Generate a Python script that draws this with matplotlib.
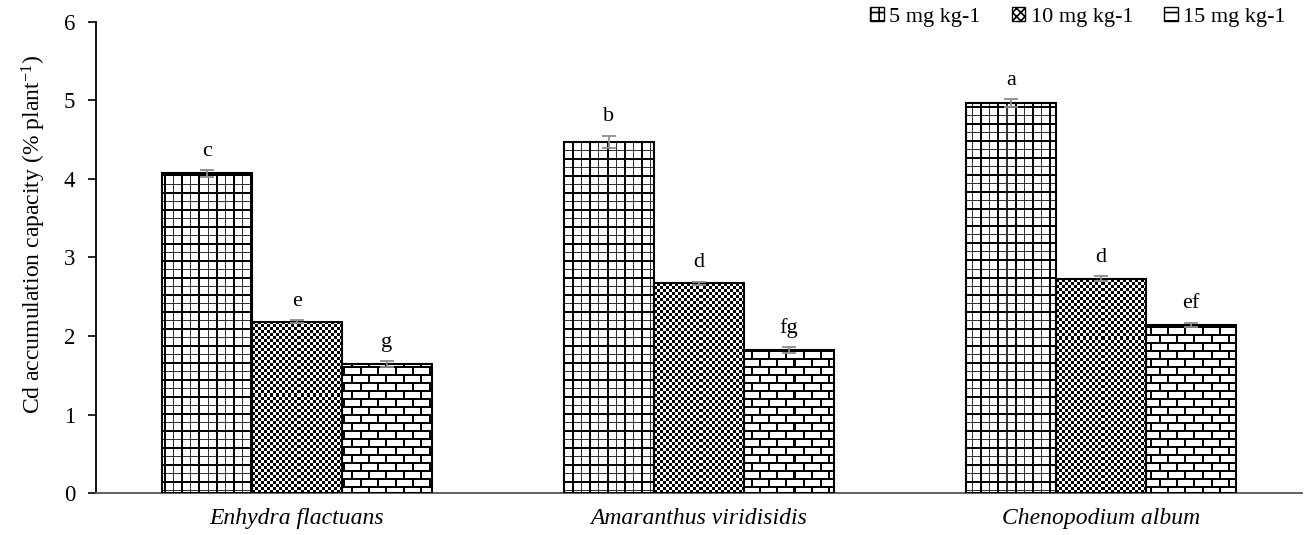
import numpy as np
import matplotlib
matplotlib.use("Agg")
import matplotlib.pyplot as plt
from matplotlib.patches import Patch

plt.rcParams['font.family'] = ['Liberation Serif', 'DejaVu Serif']
plt.rcParams['mathtext.fontset'] = 'custom'
plt.rcParams['mathtext.rm'] = 'Liberation Serif'
plt.rcParams['mathtext.it'] = 'Liberation Serif:italic'
plt.rcParams['hatch.linewidth'] = 1.2

# Data
species = ["Enhydra flactuans", "Amaranthus viridisidis", "Chenopodium album"]
doses = ["5 mg kg-1", "10 mg kg-1", "15 mg kg-1"]
dose5 = [4.07, 4.47, 4.97]
dose10 = [2.18, 2.67, 2.73]
dose15 = [1.64, 1.82, 2.14]
err5 = [0.04, 0.08, 0.05]
err10 = [0.02, 0.02, 0.03]
err15 = [0.04, 0.04, 0.03]
letters5 = ["c", "b", "a"]
letters10 = ["e", "d", "d"]
letters15 = ["g", "fg", "ef"]
yticks = [0, 1, 2, 3, 4, 5, 6]

series = [dose5, dose10, dose15]
errors = [err5, err10, err15]
letters = [letters5, letters10, letters15]

fig = plt.figure(figsize=(13.07, 5.35), dpi=100)
ax = fig.add_axes([0.0735, 0.0785, 0.9225, 0.8804])
xlim = (-0.5, 2.5)
ylim = (0, 6)

W = int(round(ax.bbox.width))
H = int(round(ax.bbox.height))
yy, xx = np.mgrid[0:H, 0:W]


def grid_texture():
    img = np.ones((H, W))
    p = 17
    mx = xx % p
    my = yy % p
    img[(mx == 9) | (my == 9)] = 0.2
    img[(mx < 2) | (my < 2)] = 0
    return img


def checker_texture():
    s = 3
    return (((xx // s) + (yy // s)) % 2).astype(float)


def brick_texture():
    img = np.ones((H, W))
    rh, bw = 8, 17
    row = yy // rh
    my = yy % rh
    shift = (row % 2) * (bw // 2)
    mx = (xx + shift) % bw
    img[my < 2] = 0
    img[mx < 2] = 0
    return img


textures = [grid_texture(), checker_texture(), brick_texture()]

x = np.arange(len(species))
width = 0.224
offsets = [-width, 0, width]

for vals, errs, labs, tex, off in zip(series, errors, letters, textures, offsets):
    bars = ax.bar(x + off, vals, width, facecolor='none', edgecolor='black',
                  linewidth=1.5, zorder=3)
    for b in bars:
        im = ax.imshow(tex, cmap='gray', vmin=0, vmax=1, origin='upper',
                       extent=(xlim[0], xlim[1], ylim[0], ylim[1]),
                       aspect='auto', interpolation='nearest', zorder=2)
        im.set_clip_path(b)
    ax.errorbar(x + off, vals, yerr=errs, fmt='none', ecolor='#8c8c8c',
                elinewidth=1.3, capsize=5, capthick=1.3, zorder=4)
    for xi, v, e, t in zip(x + off, vals, errs, labs):
        ax.text(xi, v + e + 0.12, t, ha='center', va='bottom', fontsize=16)

ax.set_xlim(*xlim)
ax.set_ylim(*ylim)
ax.set_aspect('auto')
ax.set_yticks(yticks)
ax.set_xticks(x)
ax.set_xticklabels(species, fontstyle='italic', fontsize=17)
ax.tick_params(axis='x', length=0, pad=11)
ax.tick_params(axis='y', length=6, width=1.2, labelsize=16.5, pad=9)
ax.spines['top'].set_visible(False)
ax.spines['right'].set_visible(False)
ax.spines['left'].set_linewidth(1.3)
ax.spines['bottom'].set_linewidth(1.3)
ax.spines['bottom'].set_color('#555555')
ax.set_ylabel(r'Cd accumulation capacity (% plant$^{-1}$)', fontsize=17)
ax.yaxis.set_label_coords(-0.040, 0.55)

handles = [Patch(facecolor='white', edgecolor='black', hatch='++', label=doses[0]),
           Patch(facecolor='white', edgecolor='black', hatch='xxxx', label=doses[1]),
           Patch(facecolor='white', edgecolor='black', hatch='--', label=doses[2])]
fig.legend(handles=handles, loc='upper right', bbox_to_anchor=(0.999, 1.025),
           ncol=3, frameon=False, fontsize=16, handlelength=0.6, handleheight=0.6,
           handletextpad=0.25, columnspacing=1.4)

fig.savefig('out.png', dpi=100)
